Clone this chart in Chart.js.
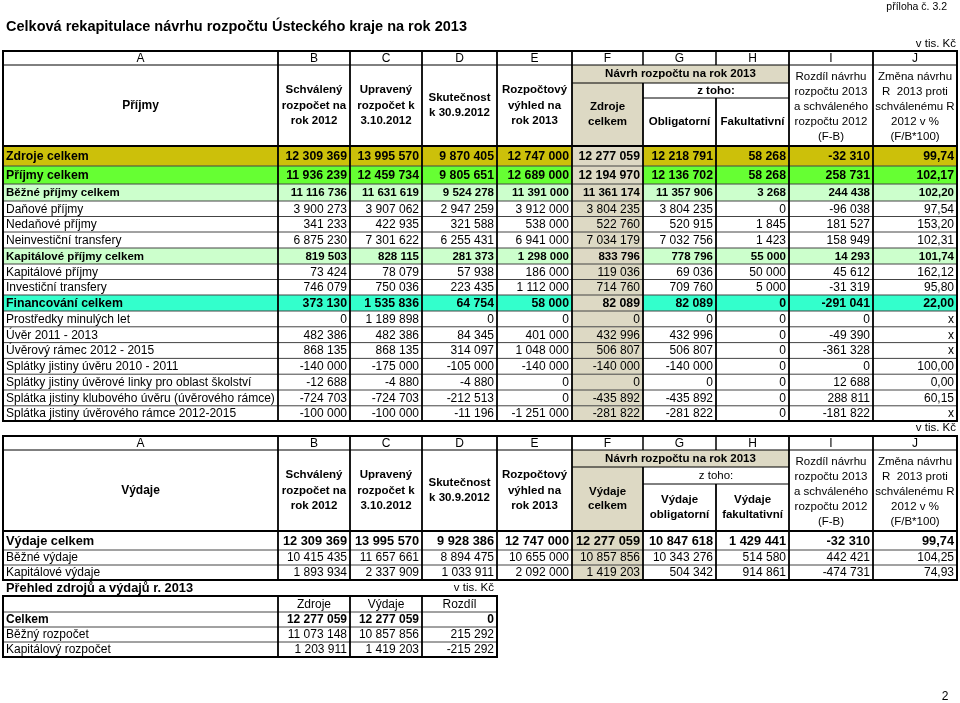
<!DOCTYPE html>
<html><head><meta charset="utf-8">
<script src="https://cdn.jsdelivr.net/npm/chart.js@4.4.0/dist/chart.umd.min.js"></script>
<style>html,body{margin:0;padding:0;background:#fff;}canvas{display:block;}</style>
</head><body>
<canvas id="c" width="960" height="703"></canvas>
<script>
// ---------- DATA ----------
const incomeLabels = [
  'Zdroje celkem','Příjmy celkem','Běžné příjmy celkem','Daňové příjmy','Nedaňové příjmy',
  'Neinvestiční transfery','Kapitálové příjmy celkem','Kapitálové příjmy','Investiční transfery',
  'Financování celkem','Prostředky minulých let','Úvěr 2011 - 2013','Úvěrový rámec 2012 - 2015',
  'Splátky jistiny úvěru 2010 - 2011','Splátky jistiny úvěrové linky pro oblast školství',
  'Splátka jistiny klubového úvěru (úvěrového rámce)','Splátka jistiny úvěrového rámce 2012-2015'
];
const incSchvaleny2012 = [12309369,11936239,11116736,3900273,341233,6875230,819503,73424,746079,373130,0,482386,868135,-140000,-12688,-724703,-100000];
const incUpraveny      = [13995570,12459734,11631619,3907062,422935,7301622,828115,78079,750036,1535836,1189898,482386,868135,-175000,-4880,-724703,-100000];
const incSkutecnost    = [9870405,9805651,9524278,2947259,321588,6255431,281373,57938,223435,64754,0,84345,314097,-105000,-4880,-212513,-11196];
const incVyhled2013    = [12747000,12689000,11391000,3912000,538000,6941000,1298000,186000,1112000,58000,0,401000,1048000,-140000,0,0,-1251000];
const incZdrojeCelkem  = [12277059,12194970,11361174,3804235,522760,7034179,833796,119036,714760,82089,0,432996,506807,-140000,0,-435892,-281822];
const incObligatorni   = [12218791,12136702,11357906,3804235,520915,7032756,778796,69036,709760,82089,0,432996,506807,-140000,0,-435892,-281822];
const incFakultativni  = [58268,58268,3268,0,1845,1423,55000,50000,5000,0,0,0,0,0,0,0,0];
const incRozdil        = [-32310,258731,244438,-96038,181527,158949,14293,45612,-31319,-291041,0,-49390,-361328,0,12688,288811,-181822];
const incZmena         = [99.74,102.17,102.20,97.54,153.20,102.31,101.74,162.12,95.80,22.00,null,null,null,100.00,0.00,60.15,null];

const expLabels = ['Výdaje celkem','Běžné výdaje','Kapitálové výdaje'];
const expSchvaleny2012 = [12309369,10415435,1893934];
const expUpraveny      = [13995570,11657661,2337909];
const expSkutecnost    = [9928386,8894475,1033911];
const expVyhled2013    = [12747000,10655000,2092000];
const expCelkem        = [12277059,10857856,1419203];
const expObligatorni   = [10847618,10343276,504342];
const expFakultativni  = [1429441,514580,914861];
const expRozdil        = [-32310,442421,-474731];
const expZmena         = [99.74,104.25,74.93];

const sumLabels  = ['Celkem','Běžný rozpočet','Kapitálový rozpočet'];
const sumHeaders = ['Zdroje','Výdaje','Rozdíl'];
const sumZdroje  = [12277059,11073148,1203911];
const sumVydaje  = [12277059,10857856,1419203];
const sumRozdil  = [0,215292,-215292];

const columnLetters = ['A','B','C','D','E','F','G','H','I','J'];

// ---------- LAYOUT / STYLE ----------
const FONT = '"Liberation Sans", Arial, Helvetica, sans-serif';
const COLS = [3, 278, 350, 422, 497, 572, 643, 716, 789, 873, 957];
const TAN = '#DDD9C4';
const incomeRowStyle = ['olive','green','light','n','n','n','light','n','n','cyan','n','n','n','n','n','n','n'];
const expRowStyle = ['big','n','n'];
const rowFill = {olive:'#CCC00A', green:'#66FF33', light:'#CCFFCC', cyan:'#33FFCC', n:'#FFFFFF', big:'#FFFFFF'};
const rowFont = {olive:'bold 12.3px', green:'bold 12.3px', cyan:'bold 12.3px', light:'bold 11.5px', n:'12px', big:'bold 12.8px'};

function fmt(v){ if(v===null) return 'x'; const s = Math.abs(v).toString().replace(/\B(?=(\d{3})+(?!\d))/g,' '); return (v<0?'-':'')+s; }
function fmtPct(v){ return v===null ? 'x' : v.toFixed(2).replace('.',','); }

const tablePlugin = {
  id: 'tableDraw',
  afterDraw(chart){
    const ctx = chart.ctx;
    const X = v => chart.scales.x.getPixelForValue(v);
    const Y = v => chart.scales.y.getPixelForValue(v);
    function rect(x0,y0,x1,y1,c){ ctx.fillStyle=c; ctx.fillRect(X(x0),Y(y0),X(x1)-X(x0),Y(y1)-Y(y0)); }
    function hl(x0,x1,y,w,c){ ctx.strokeStyle=c; ctx.lineWidth=w; ctx.beginPath(); ctx.moveTo(X(x0),Y(y)); ctx.lineTo(X(x1),Y(y)); ctx.stroke(); }
    function vl(x,y0,y1,w,c){ ctx.strokeStyle=c; ctx.lineWidth=w; ctx.beginPath(); ctx.moveTo(X(x),Y(y0)); ctx.lineTo(X(x),Y(y1)); ctx.stroke(); }
    function txt(s,x,y,align,font){ ctx.font = font+' '+FONT; ctx.fillStyle='#000'; ctx.textAlign=align; ctx.textBaseline='middle'; ctx.fillText(s,X(x),Y(y)); }
    function lines(arr,x,yc,font,lh){ const n=arr.length; arr.forEach((s,i)=>txt(s,x,yc+(i-(n-1)/2)*lh,'center',font)); }
    const cx = i => (COLS[i]+COLS[i+1])/2;

    ctx.save();
    // page texts
    txt('příloha č. 3.2', 947, 7, 'right', '10.5px');
    txt('Celková rekapitulace návrhu rozpočtu Ústeckého kraje na rok 2013', 6, 27, 'left', 'bold 14.5px');

    function mainTable(t){
      const {top, let_b, navr_b, zt_b, head_b, rows, labels, cols, styles, hdr} = t;
      const bottom = rows[rows.length-1];
      rect(COLS[0],top,COLS[10],head_b,'#fff');
      rect(COLS[5],let_b,COLS[8],navr_b,TAN);
      rect(COLS[5],navr_b,COLS[6],head_b,TAN);
      labels.forEach((l,r)=>{
        rect(COLS[0],rows[r],COLS[10],rows[r+1],rowFill[styles[r]]);
        rect(COLS[5],rows[r],COLS[6],rows[r+1],TAN);
      });
      for(let r=1;r<labels.length;r++) hl(COLS[0],COLS[10],rows[r],1,'#444');
      hl(COLS[0],COLS[10],let_b,1,'#000');
      hl(COLS[5],COLS[8],navr_b,1,'#000');
      hl(COLS[6],COLS[8],zt_b,1,'#000');
      hl(COLS[0],COLS[10],head_b,2,'#000');
      for(let i=1;i<10;i++){
        let y0 = top;
        if(i===6){ vl(COLS[i],top,let_b,1.5,'#000'); y0 = navr_b; }
        if(i===7){ vl(COLS[i],top,let_b,1.5,'#000'); y0 = zt_b; }
        vl(COLS[i],y0,bottom,1.8,'#000');
      }
      ctx.strokeStyle='#000'; ctx.lineWidth=2;
      ctx.strokeRect(X(COLS[0]),Y(top),X(COLS[10])-X(COLS[0]),Y(bottom)-Y(top));
      columnLetters.forEach((L,i)=>txt(L,cx(i),(top+let_b)/2+0.5,'center','12px'));
      const hc = (let_b+head_b)/2;
      const lh = 15.5;
      txt(hdr.a, cx(0), hc, 'center', 'bold 12px');
      lines(['Schválený','rozpočet na','rok 2012'], cx(1), hc, 'bold 11.5px', lh);
      lines(['Upravený','rozpočet k','3.10.2012'], cx(2), hc, 'bold 11.5px', lh);
      lines(['Skutečnost','k 30.9.2012'], cx(3), hc, 'bold 11.5px', lh);
      lines(['Rozpočtový','výhled na','rok 2013'], cx(4), hc, 'bold 11.5px', lh);
      txt('Návrh rozpočtu na rok 2013', (COLS[5]+COLS[8])/2, (let_b+navr_b)/2, 'center', 'bold 11.5px');
      lines(hdr.f, cx(5), (navr_b+head_b)/2, 'bold 11.5px', 14.5);
      txt('z toho:', (COLS[6]+COLS[8])/2, (navr_b+zt_b)/2, 'center', hdr.ztFont);
      lines(hdr.g, cx(6), (zt_b+head_b)/2, 'bold 11.5px', 15);
      lines(hdr.h, cx(7), (zt_b+head_b)/2, 'bold 11.5px', 15);
      lines(['Rozdíl návrhu','rozpočtu 2013','a schváleného','rozpočtu 2012','(F-B)'], cx(8), hc+1, '11.5px', 15);
      lines(['Změna návrhu','R  2013 proti','schválenému R','2012 v %','(F/B*100)'], cx(9), hc+1, '11.5px', 15);
      labels.forEach((l,r)=>{
        const yc = (rows[r]+rows[r+1])/2+0.5;
        const f = rowFont[styles[r]];
        txt(l, COLS[0]+3, yc, 'left', f);
        cols.forEach((arr,c)=>{
          const s = c===8 ? fmtPct(arr[r]) : fmt(arr[r]);
          txt(s, COLS[c+2]-3, yc, 'right', f);
        });
      });
    }

    mainTable({
      top:51, let_b:65, navr_b:83, zt_b:98, head_b:146,
      rows:[146,166,184,201,216.5,232,248,264,279.5,295,311,326.8,342.6,358.4,374.2,390,405.8,421],
      labels: incomeLabels,
      cols:[incSchvaleny2012,incUpraveny,incSkutecnost,incVyhled2013,incZdrojeCelkem,incObligatorni,incFakultativni,incRozdil,incZmena],
      styles: incomeRowStyle,
      hdr:{a:'Příjmy', f:['Zdroje','celkem'], g:['Obligatorní'], h:['Fakultativní'], ztFont:'bold 11.5px'}
    });
    txt('v tis. Kč', 956, 44, 'right', '11.5px');

    txt('v tis. Kč', 956, 428, 'right', '11.5px');
    mainTable({
      top:436, let_b:450, navr_b:467, zt_b:484, head_b:531,
      rows:[531,550,565,580],
      labels: expLabels,
      cols:[expSchvaleny2012,expUpraveny,expSkutecnost,expVyhled2013,expCelkem,expObligatorni,expFakultativni,expRozdil,expZmena],
      styles: expRowStyle,
      hdr:{a:'Výdaje', f:['Výdaje','celkem'], g:['Výdaje','obligatorní'], h:['Výdaje','fakultativní'], ztFont:'11.5px'}
    });

    txt('Přehled zdrojů a výdajů r. 2013', 6, 588, 'left', 'bold 12.8px');
    txt('v tis. Kč', 494, 588, 'right', '11.5px');
    const sRows = [596,612,627,642,657];
    const sCols = [COLS[0],COLS[1],COLS[2],COLS[3],COLS[4]];
    for(let r=1;r<4;r++) hl(sCols[0],sCols[4],sRows[r],1,'#444');
    for(let i=1;i<4;i++) vl(sCols[i],sRows[0],sRows[4],1.8,'#000');
    ctx.strokeStyle='#000'; ctx.lineWidth=2;
    ctx.strokeRect(X(sCols[0]),Y(sRows[0]),X(sCols[4])-X(sCols[0]),Y(sRows[4])-Y(sRows[0]));
    sumHeaders.forEach((h,i)=>txt(h,(sCols[i+1]+sCols[i+2])/2,(sRows[0]+sRows[1])/2+0.5,'center','12px'));
    sumLabels.forEach((l,r)=>{
      const yc=(sRows[r+1]+sRows[r+2])/2+0.5;
      const f = r===0 ? 'bold 12px' : '12px';
      txt(l, sCols[0]+3, yc, 'left', f);
      [sumZdroje,sumVydaje,sumRozdil].forEach((arr,c)=>txt(fmt(arr[r]), sCols[c+2]-3, yc, 'right', f));
    });

    txt('2', 945, 697, 'center', '12px');
    ctx.restore();
  }
};

new Chart(document.getElementById('c'), {
  type: 'scatter',
  data: { datasets: [] },
  options: {
    responsive: false, animation: false, devicePixelRatio: 1,
    layout: { padding: 0 },
    plugins: { legend: { display: false }, tooltip: { enabled: false } },
    scales: {
      x: { type: 'linear', min: 0, max: 960, display: false },
      y: { type: 'linear', min: 0, max: 703, reverse: true, display: false }
    }
  },
  plugins: [tablePlugin]
});
</script>
</body></html>
